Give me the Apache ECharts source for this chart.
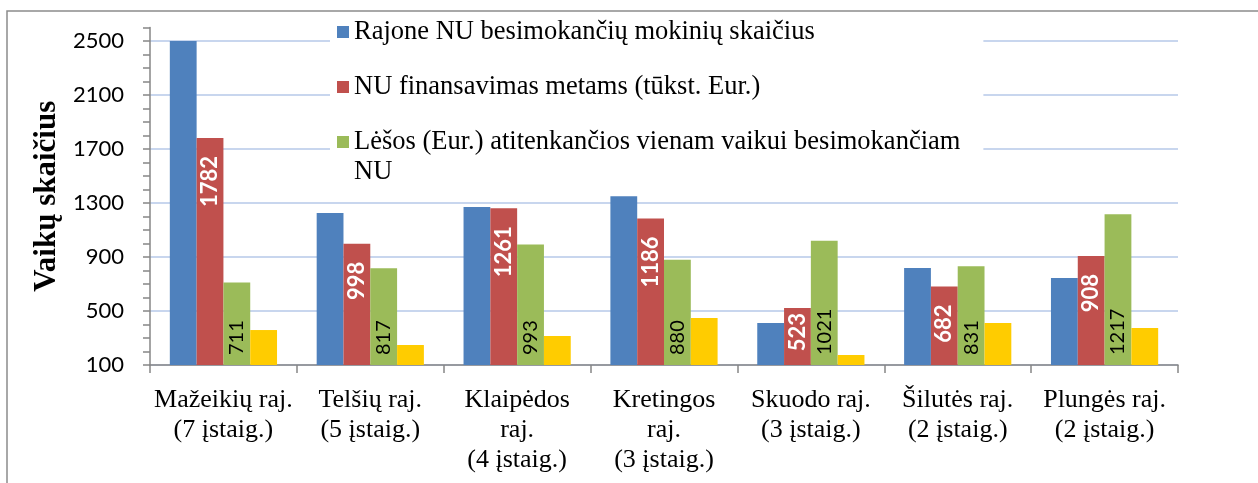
<!DOCTYPE html>
<html>
<head>
<meta charset="utf-8">
<script src="https://cdn.jsdelivr.net/npm/echarts@6/dist/echarts.min.js"></script>
<style>
html,body{margin:0;padding:0;background:#fff;}
#c{width:1258px;height:483px;}
</style>
</head>
<body>
<div id="c"></div>
<script>
const categories = [
  'Mažeikių raj.\n(7 įstaig.)',
  'Telšių raj.\n(5 įstaig.)',
  'Klaipėdos\nraj.\n(4 įstaig.)',
  'Kretingos\nraj.\n(3 įstaig.)',
  'Skuodo raj.\n(3 įstaig.)',
  'Šilutės raj.\n(2 įstaig.)',
  'Plungės raj.\n(2 įstaig.)'
];
const seriesNames = [
  'Rajone NU besimokančių mokinių skaičius',
  'NU finansavimas metams (tūkst. Eur.)',
  'Lėšos (Eur.) atitenkančios vienam vaikui besimokančiam NU',
  '4 serija'
];
const pupils = [2500, 1226, 1270, 1350, 411, 819, 744];
const funding = [1782, 998, 1261, 1186, 523, 682, 908];
const perChild = [711, 817, 993, 880, 1021, 831, 1217];
const fourth = [359, 248, 315, 448, 174, 411, 374];
const yTitle = 'Vaikų skaičius';

const chart = echarts.init(document.getElementById('c'), null, {renderer: 'canvas'});
const serif = 'Liberation Serif';
const sans = 'Lato';
const gray = '#868686';

const fundingData = funding.map(v => v < 600 ? {value: v, label: {distance: 5}} : v);

// every legend entry is laid out as three 30px lines centred on its marker,
// so the wrapped third entry keeps its marker beside the first line
const legendText = name => name === seriesNames[2]
  ? '\n' + name.replace(/ NU$/, '\nNU')
  : '\n' + name + '\n';

chart.setOption({
  animation: false,
  backgroundColor: '#fff',
  color: ['#4F81BD', '#C0504D', '#9BBB59', '#FFCC00'],
  graphic: [{
    type: 'rect', z: 100, silent: true,
    shape: {x: 7, y: 11, width: 1300, height: 520},
    style: {fill: 'none', stroke: '#8c8c8c', lineWidth: 1.5}
  }],
  grid: {left: 150, right: 80, top: 27.5, bottom: 118, containLabel: false},
  legend: {
    orient: 'vertical',
    left: 330, top: -16,
    padding: [3, 23, 5, 7],
    backgroundColor: '#fff',
    itemWidth: 12, itemHeight: 12, itemGap: -35,
    icon: 'rect',
    formatter: legendText,
    textStyle: {fontFamily: serif, fontSize: 26.5, color: '#000', lineHeight: 30},
    data: [seriesNames[0], seriesNames[1], seriesNames[2]],
    z: 1
  },
  xAxis: {
    type: 'category',
    data: categories,
    axisLine: {lineStyle: {color: gray, width: 1.5}},
    axisTick: {show: true, length: 8, alignWithLabel: false, interval: 0, lineStyle: {color: gray, width: 1.5}},
    axisLabel: {interval: 0, fontFamily: serif, fontSize: 26, lineHeight: 30, color: '#000', margin: 20},
    splitLine: {show: false}
  },
  yAxis: [{
    type: 'value', min: 100, max: 2600, interval: 400,
    name: yTitle, nameLocation: 'middle', nameGap: 88,
    nameTextStyle: {fontFamily: serif, fontSize: 31, fontWeight: 'bold', color: '#000'},
    axisLine: {show: false}, axisTick: {show: false},
    axisLabel: {fontFamily: sans, fontSize: 22, color: '#000', margin: 26, showMaxLabel: false,
      formatter: v => String(v)},
    splitLine: {show: true, showMaxLine: false, lineStyle: {color: '#B6C9E8', width: 1.5}}
  }, {
    type: 'value', min: 100, max: 2600, interval: 100, position: 'left',
    axisLine: {show: true, lineStyle: {color: gray, width: 1.5}},
    axisTick: {show: true, inside: false, length: 7, lineStyle: {color: gray, width: 1.5}},
    axisLabel: {show: false},
    splitLine: {show: false}
  }],
  series: [{
    name: seriesNames[0], type: 'bar', data: pupils, z: 3,
    barGap: '0%', barCategoryGap: '27%'
  }, {
    name: seriesNames[1], type: 'bar', data: fundingData, z: 3,
    label: {show: true, position: 'insideTop', rotate: 90, align: 'right', verticalAlign: 'middle',
      distance: 18, fontFamily: sans, fontSize: 22, fontWeight: 'bold', color: '#fff'}
  }, {
    name: seriesNames[2], type: 'bar', data: perChild, z: 3,
    label: {show: true, position: 'insideBottom', rotate: 90, align: 'left', verticalAlign: 'middle',
      distance: 10, fontFamily: sans, fontSize: 20, color: '#000'}
  }, {
    name: seriesNames[3], type: 'bar', data: fourth, z: 3
  }]
});
</script>
</body>
</html>
